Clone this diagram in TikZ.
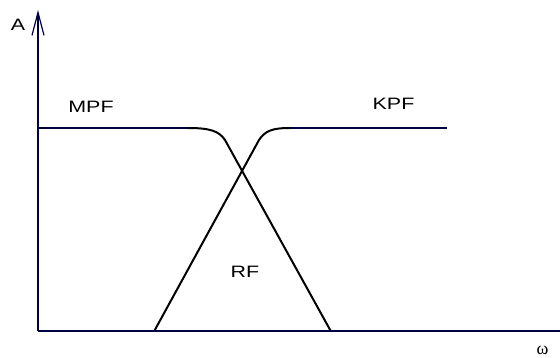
\documentclass[tikz,border=0pt]{standalone}
\usepackage{fontspec}
\setmainfont{Liberation Sans}[FakeStretch=1.3]
\newfontfamily\greekfont{Liberation Serif}
\usetikzlibrary{arrows.meta}
\definecolor{axisnavy}{HTML}{000040}
\definecolor{curveblack}{HTML}{000000}
\tikzset{
  axisline/.style={
    draw=axisnavy,
    line width=2pt
  },
  curveline/.style={
    draw=curveblack,
    line width=2pt,
    line join=round
  },
  flatline/.style={
    draw=axisnavy,
    line width=2pt
  },
  lbl/.style={
    inner sep=0pt,
    font=\fontsize{16.5}{18}\selectfont
  },
  axisarrow/.style={
    -{Straight Barb[length=23pt,width=12pt,line width=1.2pt]}
  }
}

\begin{document}
\begin{tikzpicture}[x=1pt, y=-1pt]
\useasboundingbox (0,0) rectangle (560,358);

% corner points of the plot
\coordinate (origin) at (38,331.5);
\coordinate (ytop) at (38,10);
\coordinate (xend) at (560,331.5);
\coordinate (rfleft) at (154,331.5);
\coordinate (rfright) at (331,331.5);
\coordinate (mpfknee) at (188,128);
\coordinate (mpfbend) at (225,140);
\coordinate (kpfbend) at (259,140);
\coordinate (kpfknee) at (290,128);

% RF triangle, sides carried on into the two pass bands
\draw[curveline] (mpfknee) .. controls (210,128) and (219,131) .. (mpfbend) -- (rfright);
\draw[curveline] (rfleft) -- (kpfbend) .. controls (265,131) and (272,128) .. (kpfknee);

% flat parts
\draw[flatline] (38,128) -- (mpfknee);
\draw[flatline] (kpfknee) -- (447,128);

% axes
\draw[axisline] (origin) -- (xend);
\draw[axisline, axisarrow] (origin) -- (ytop);

% labels
\node[lbl] (alabel) at (18,24.5) {A};
\node[lbl] (mpf) at (91,107) {MPF};
\node[lbl] (kpf) at (393.5,104) {KPF};
\node[lbl] (rf) at (245,272) {RF};
\node[inner sep=0pt, font=\greekfont\fontsize{18}{20}\selectfont] (omega) at (542.5,350.5) {ω};

\end{tikzpicture}
\end{document}
